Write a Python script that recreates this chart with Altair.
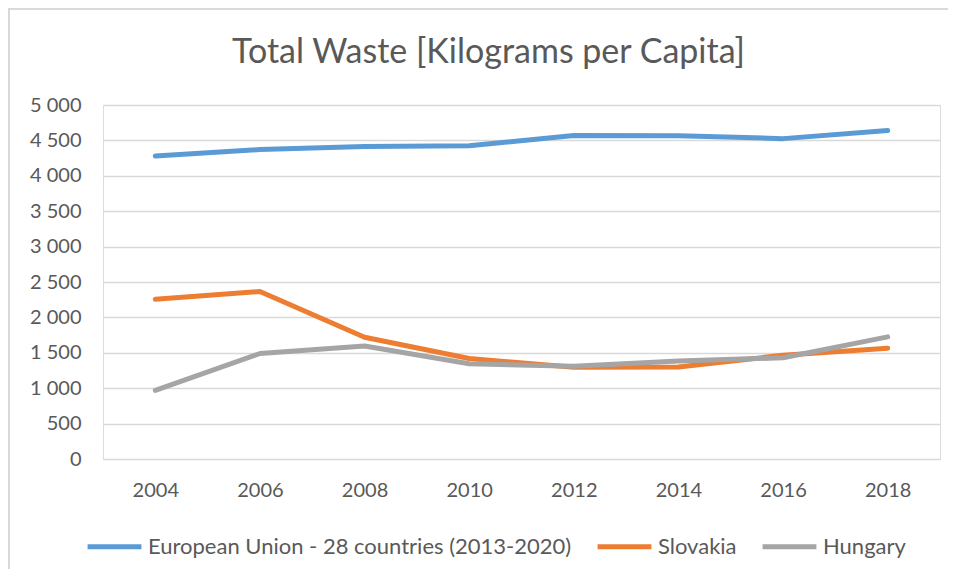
import altair as alt
import pandas as pd

years = ["2004", "2006", "2008", "2010", "2012", "2014", "2016", "2018"]
series_names = ["European Union - 28 countries (2013-2020)", "Slovakia", "Hungary"]
eu = [4280, 4370, 4415, 4425, 4570, 4565, 4525, 4640]
slovakia = [2255, 2365, 1720, 1420, 1295, 1300, 1465, 1565]
hungary = [970, 1490, 1595, 1345, 1310, 1385, 1430, 1725]
colors = ["#5B9BD5", "#ED7D31", "#A5A5A5"]
y_ticks = [0, 500, 1000, 1500, 2000, 2500, 3000, 3500, 4000, 4500, 5000]

rows = []
for name, vals in zip(series_names, [eu, slovakia, hungary]):
    for yr, v in zip(years, vals):
        rows.append({"year": yr, "series": name, "value": v})
df = pd.DataFrame(rows)

FONT = "Lato"
TXT = "#595959"
GRID = "#D9D9D9"
W, H = 837, 354
BTOP = -96.5

lines = alt.Chart(df).mark_line(strokeWidth=5, strokeCap="round", strokeJoin="round").encode(
    x=alt.X("year:N", sort=years, title=None,
            scale=alt.Scale(padding=0.5),
            axis=alt.Axis(labelAngle=0, ticks=False, domain=False, grid=False,
                          labelPadding=21, labelFontSize=20, labelColor=TXT, labelFont=FONT)),
    y=alt.Y("value:Q", title=None,
            scale=alt.Scale(domain=[0, 5000], nice=False),
            axis=alt.Axis(values=y_ticks, labelExpr="replace(format(datum.value, ',d'), ',', ' ')",
                          ticks=False, domain=False, grid=True, gridColor=GRID, gridWidth=1.5,
                          labelPadding=22, labelFontSize=20, labelColor=TXT, labelFont=FONT)),
    color=alt.Color("series:N", sort=series_names,
                    scale=alt.Scale(domain=series_names, range=colors),
                    legend=alt.Legend(title=None, orient="none", direction="horizontal",
                                      legendX=-18, legendY=412,
                                      symbolType="stroke", symbolStrokeWidth=5, symbolSize=2900,
                                      labelFontSize=22, labelColor=TXT, labelFont=FONT,
                                      labelLimit=600, labelOffset=4, columnPadding=15)),
    order=alt.Order("year:N"),
)

left_border = alt.Chart(df).mark_rule(color=GRID, strokeWidth=1.5).encode(
    x=alt.value(-94), x2=alt.value(-94), y=alt.value(BTOP), y2=alt.value(H + 110)
)
top_border = alt.Chart(df).mark_rule(color=GRID, strokeWidth=1.5).encode(
    x=alt.value(-94), x2=alt.value(W + 8), y=alt.value(BTOP), y2=alt.value(BTOP)
)

chart = alt.layer(left_border, top_border, lines).properties(
    width=W, height=H,
    title=alt.TitleParams("Total Waste [Kilograms per Capita]", font=FONT, fontSize=34,
                          fontWeight="normal", color=TXT, anchor="middle", dx=-33,
                          offset=-89, baseline="alphabetic"),
    autosize=alt.AutoSizeParams(type="none"),
    padding={"left": 95, "top": 97, "right": 8, "bottom": 110},
).configure_view(stroke=None).configure(background="white")

chart.save("out.html", embed_options={"renderer": "svg", "actions": False})
